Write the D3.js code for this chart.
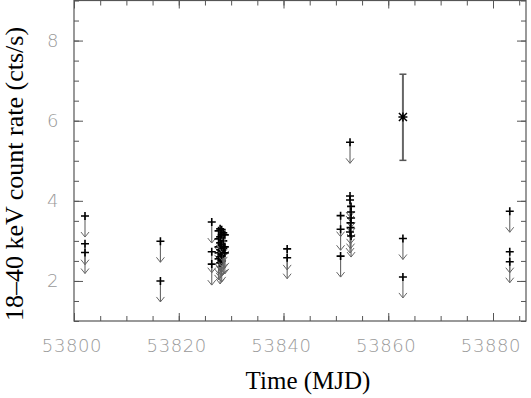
<!DOCTYPE html>
<html lang="en">
<head>
<meta charset="utf-8">
<script src="https://d3js.org/d3.v7.min.js"></script>
<style>
  body { margin: 0; background: #fff; }
  .tick-label { font-family: "DejaVu Sans", sans-serif; font-weight: 200; fill: #999; font-size: 18px; letter-spacing: 0.6px; }
  .title { font-family: "Liberation Serif", "Times New Roman", serif; fill: #000; }
</style>
</head>
<body>
<script>
// upper limits (MJD, cts/s)
var ulTime = [
  53802.1, 53802.1, 53802.1,
  53816.5, 53816.5,
  53826.3, 53826.3, 53826.3,
  53827.6, 53827.6, 53827.6, 53827.6, 53827.6,
  53827.9, 53827.9, 53827.9, 53827.9, 53827.9, 53827.9,
  53828.2, 53828.2, 53828.2, 53828.2, 53828.2, 53828.2,
  53828.5, 53828.5, 53828.5, 53828.5,
  53828.8, 53828.8, 53828.8,
  53840.7, 53840.7,
  53850.9, 53850.9, 53850.9,
  53852.7, 53852.7, 53852.7, 53852.9, 53852.9, 53852.9, 53852.8, 53852.8, 53852.7, 53852.9,
  53862.8, 53862.8,
  53883.2, 53883.2, 53883.2
];
var ulRate = [
  3.62, 2.93, 2.71,
  2.99, 2.00,
  3.47, 2.73, 2.42,
  3.25, 3.05, 2.85, 2.70, 2.55,
  3.30, 3.10, 2.95, 2.78, 2.60, 2.45,
  3.28, 3.15, 2.90, 2.75, 2.65, 2.50,
  3.20, 3.00, 2.82, 2.68,
  3.15, 2.85, 2.70,
  2.80, 2.58,
  3.63, 3.29, 2.62,
  5.46, 4.12, 4.02, 3.86, 3.72, 3.57, 3.45, 3.33, 3.22, 3.12,
  3.06, 2.10,
  3.74, 2.73, 2.48
];
// detection with error bar
var detTime = [53862.8];
var detRate = [6.09];
var detLow = [5.01];
var detHigh = [7.16];

var xTicks = [53800, 53820, 53840, 53860, 53880];
var yTicks = [2, 4, 6, 8];

(function() {
var W = 531, H = 398;
var pLeft = 74, pRight = 526, pTop = 0.5, pBottom = 321;

var svg = d3.select("body").append("svg")
  .attr("width", W).attr("height", H);

var x = d3.scaleLinear().domain([53800, 53886.3]).range([pLeft, pRight]);
var y = d3.scaleLinear().domain([1, 9]).range([pBottom, pTop]);

var axisColor = "#555";

// frame
svg.append("rect")
  .attr("x", pLeft).attr("y", pTop)
  .attr("width", pRight - pLeft).attr("height", pBottom - pTop)
  .attr("fill", "none").attr("stroke", axisColor).attr("stroke-width", 1.2);

// inward ticks on all sides
function tickSet(g, axis, scale, values, len) {
  g.call(axis(scale).tickValues(values).tickSize(len).tickFormat(""));
  g.select(".domain").remove();
  g.selectAll("line").attr("stroke", axisColor).attr("stroke-width", 1);
}
var xMinor = d3.range(53800, 53886, 5);
var yMinor = d3.range(1, 9.01, 0.5);

tickSet(svg.append("g").attr("transform", "translate(0," + pBottom + ")"), d3.axisTop, x, xMinor, 5);
tickSet(svg.append("g").attr("transform", "translate(0," + pBottom + ")"), d3.axisTop, x, xTicks, 8);
tickSet(svg.append("g").attr("transform", "translate(0," + pTop + ")"), d3.axisBottom, x, xMinor, 5);
tickSet(svg.append("g").attr("transform", "translate(0," + pTop + ")"), d3.axisBottom, x, xTicks, 8);
tickSet(svg.append("g").attr("transform", "translate(" + pLeft + ",0)"), d3.axisRight, y, yMinor, 5);
tickSet(svg.append("g").attr("transform", "translate(" + pLeft + ",0)"), d3.axisRight, y, yTicks, 9);
tickSet(svg.append("g").attr("transform", "translate(" + pRight + ",0)"), d3.axisLeft, y, yMinor, 5);
tickSet(svg.append("g").attr("transform", "translate(" + pRight + ",0)"), d3.axisLeft, y, yTicks, 9);

// tick labels
svg.selectAll(".xl").data(xTicks).enter().append("text")
  .attr("class", "tick-label")
  .attr("x", function(d) { return x(d) - 2; })
  .attr("y", 352)
  .attr("text-anchor", "middle")
  .text(function(d) { return d; });

svg.selectAll(".yl").data(yTicks).enter().append("text")
  .attr("class", "tick-label")
  .attr("x", 59)
  .attr("y", function(d) { return y(d) + 6; })
  .attr("text-anchor", "end")
  .text(function(d) { return d; });

// axis titles
svg.append("text").attr("class", "title")
  .attr("x", 308).attr("y", 389)
  .attr("text-anchor", "middle")
  .style("font-size", "25px")
  .text("Time (MJD)");

svg.append("text").attr("class", "title")
  .attr("transform", "translate(23,174) rotate(-90)")
  .attr("text-anchor", "middle")
  .style("font-size", "26px")
  .text("18\u201340 keV count rate (cts/s)");

// upper limits: cross + line + open arrowhead
var ul = d3.range(ulTime.length).map(function(i) { return { t: ulTime[i], r: ulRate[i] }; });
var arrowLen = 21;
var u = svg.append("g").selectAll(".ul").data(ul).enter().append("g")
  .attr("transform", function(d) { return "translate(" + x(d.t) + "," + y(d.r) + ")"; });
u.append("line").attr("x1", 0).attr("x2", 0).attr("y1", 0).attr("y2", arrowLen)
  .attr("stroke", "#666").attr("stroke-width", 1.1);
u.append("path").attr("d", "M-4," + (arrowLen - 5) + "L0," + arrowLen + "L4," + (arrowLen - 5))
  .attr("fill", "none").attr("stroke", "#666").attr("stroke-width", 1);
u.append("path").attr("d", "M-4,0H4M0,-4V4")
  .attr("stroke", "#000").attr("stroke-width", 1.6);

// detection
var det = d3.range(detTime.length).map(function(i) {
  return { t: detTime[i], r: detRate[i], lo: detLow[i], hi: detHigh[i] };
});
var dg = svg.selectAll(".det").data(det).enter().append("g");
dg.append("line")
  .attr("x1", function(d) { return x(d.t); }).attr("x2", function(d) { return x(d.t); })
  .attr("y1", function(d) { return y(d.lo); }).attr("y2", function(d) { return y(d.hi); })
  .attr("stroke", "#666").attr("stroke-width", 2);
dg.append("line")
  .attr("x1", function(d) { return x(d.t) - 3.5; }).attr("x2", function(d) { return x(d.t) + 3.5; })
  .attr("y1", function(d) { return y(d.lo); }).attr("y2", function(d) { return y(d.lo); })
  .attr("stroke", "#555").attr("stroke-width", 1.5);
dg.append("line")
  .attr("x1", function(d) { return x(d.t) - 3.5; }).attr("x2", function(d) { return x(d.t) + 3.5; })
  .attr("y1", function(d) { return y(d.hi); }).attr("y2", function(d) { return y(d.hi); })
  .attr("stroke", "#555").attr("stroke-width", 1.5);
dg.append("path")
  .attr("transform", function(d) { return "translate(" + x(d.t) + "," + y(d.r) + ")"; })
  .attr("d", "M-4,-4L4,4M-4,4L4,-4M-4.5,0H4.5M0,-4.5V4.5")
  .attr("stroke", "#000").attr("stroke-width", 1.5);
})();
</script>
</body>
</html>
